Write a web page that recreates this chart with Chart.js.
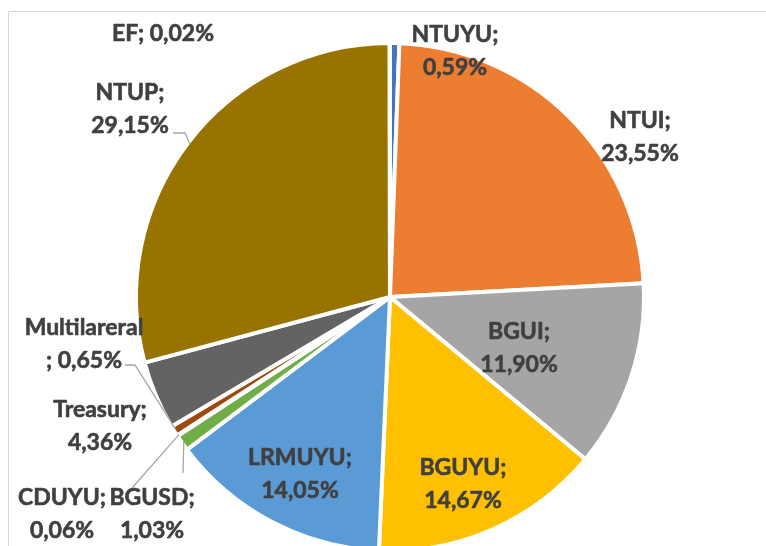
<!DOCTYPE html>
<html>
<head>
<meta charset="utf-8">
<script src="https://cdn.jsdelivr.net/npm/chart.js@4.4.1/dist/chart.umd.min.js"></script>
<style>
  html, body { margin: 0; padding: 0; background: #fff; overflow: hidden; }
</style>
</head>
<body>
<canvas id="pie" width="766" height="546"></canvas>
<script>
// data (share of total, %)
const categories = ['NTUYU', 'NTUI', 'BGUI', 'BGUYU', 'LRMUYU', 'BGUSD', 'CDUYU', 'Multilareral', 'Treasury', 'NTUP', 'EF'];
const shares     = [0.59, 23.55, 11.90, 14.67, 14.05, 1.03, 0.06, 0.65, 4.36, 29.15, 0.02];
const colors     = ['#4472C4', '#ED7D31', '#A5A5A5', '#FFC000', '#5B9BD5', '#70AD47', '#264478', '#9E480E', '#636363', '#997300', '#255E91'];

// where each data label sits (first-line baseline) and how it is split
const labelSpots = [
    { x: 455, y: 42,  split: 'two' },
    { x: 640, y: 128, split: 'two' },
    { x: 519, y: 339, split: 'two' },
    { x: 463, y: 475, split: 'two' },
    { x: 300, y: 465, split: 'two' },
    { x: 152, y: 505, split: 'two', leader: [[183, 473]] },
    { x: 62,  y: 505, split: 'two', leader: [[132, 488]] },
    { x: 84,  y: 335, split: 'name', leader: [[125, 365], [135, 365]] },
    { x: 100, y: 417, split: 'two' },
    { x: 130, y: 100, split: 'two', leader: [[173, 133], [185, 133]] },
    { x: 163, y: 41,  split: 'one' }
];

const LABEL_FONT = 'bold 23px Lato, "Open Sans", sans-serif';
const LINE_H = 32.5;

const fmt = v => v.toFixed(2).replace('.', ',') + '%';

const frame = {
    id: 'frame',
    beforeDraw(chart) {
        const c = chart.ctx;
        c.save();
        c.strokeStyle = '#d9d9d9';
        c.lineWidth = 1;
        c.beginPath();
        c.moveTo(8.5, 560); c.lineTo(8.5, 11.5); c.lineTo(780, 11.5);
        c.stroke();
        c.restore();
    }
};

const dataLabels = {
    id: 'dataLabels',
    afterDatasetsDraw(chart) {
        const c = chart.ctx;
        const arcs = chart.getDatasetMeta(0).data;
        c.save();
        // leader lines
        c.strokeStyle = '#a6a6a6';
        c.lineWidth = 1.3;
        arcs.forEach((arc, i) => {
            const spot = labelSpots[i];
            if (!spot.leader) return;
            const p = arc.getProps(['x', 'y', 'startAngle', 'endAngle', 'outerRadius'], true);
            const mid = (p.startAngle + p.endAngle) / 2;
            const r = p.outerRadius - 2;
            c.beginPath();
            spot.leader.forEach(([x, y], k) => k ? c.lineTo(x, y) : c.moveTo(x, y));
            c.lineTo(p.x + Math.cos(mid) * r, p.y + Math.sin(mid) * r);
            c.stroke();
        });
        // text (thin stroke to get closer to the heavy original weight)
        c.font = LABEL_FONT;
        c.fillStyle = '#404040';
        c.strokeStyle = '#404040';
        c.lineWidth = 0.6;
        c.lineJoin = 'round';
        c.textAlign = 'center';
        c.textBaseline = 'alphabetic';
        categories.forEach((name, i) => {
            const spot = labelSpots[i];
            const pct = fmt(shares[i]);
            let lines;
            if (spot.split === 'one') lines = [name + '; ' + pct];
            else if (spot.split === 'name') lines = [name, '; ' + pct];
            else lines = [name + ';', pct];
            lines.forEach((t, k) => {
                c.fillText(t, spot.x, spot.y + k * LINE_H);
                c.strokeText(t, spot.x, spot.y + k * LINE_H);
            });
        });
        c.restore();
    }
};

new Chart(document.getElementById('pie'), {
    type: 'pie',
    data: {
        labels: categories,
        datasets: [{
            data: shares,
            backgroundColor: colors,
            borderColor: '#ffffff',
            borderWidth: 4
        }]
    },
    options: {
        responsive: false,
        animation: false,
        radius: 254,
        layout: { padding: { left: 14, right: 0, top: 48, bottom: 0 } },
        plugins: { legend: { display: false }, tooltip: { enabled: false } }
    },
    plugins: [frame, dataLabels]
});
</script>
</body>
</html>
